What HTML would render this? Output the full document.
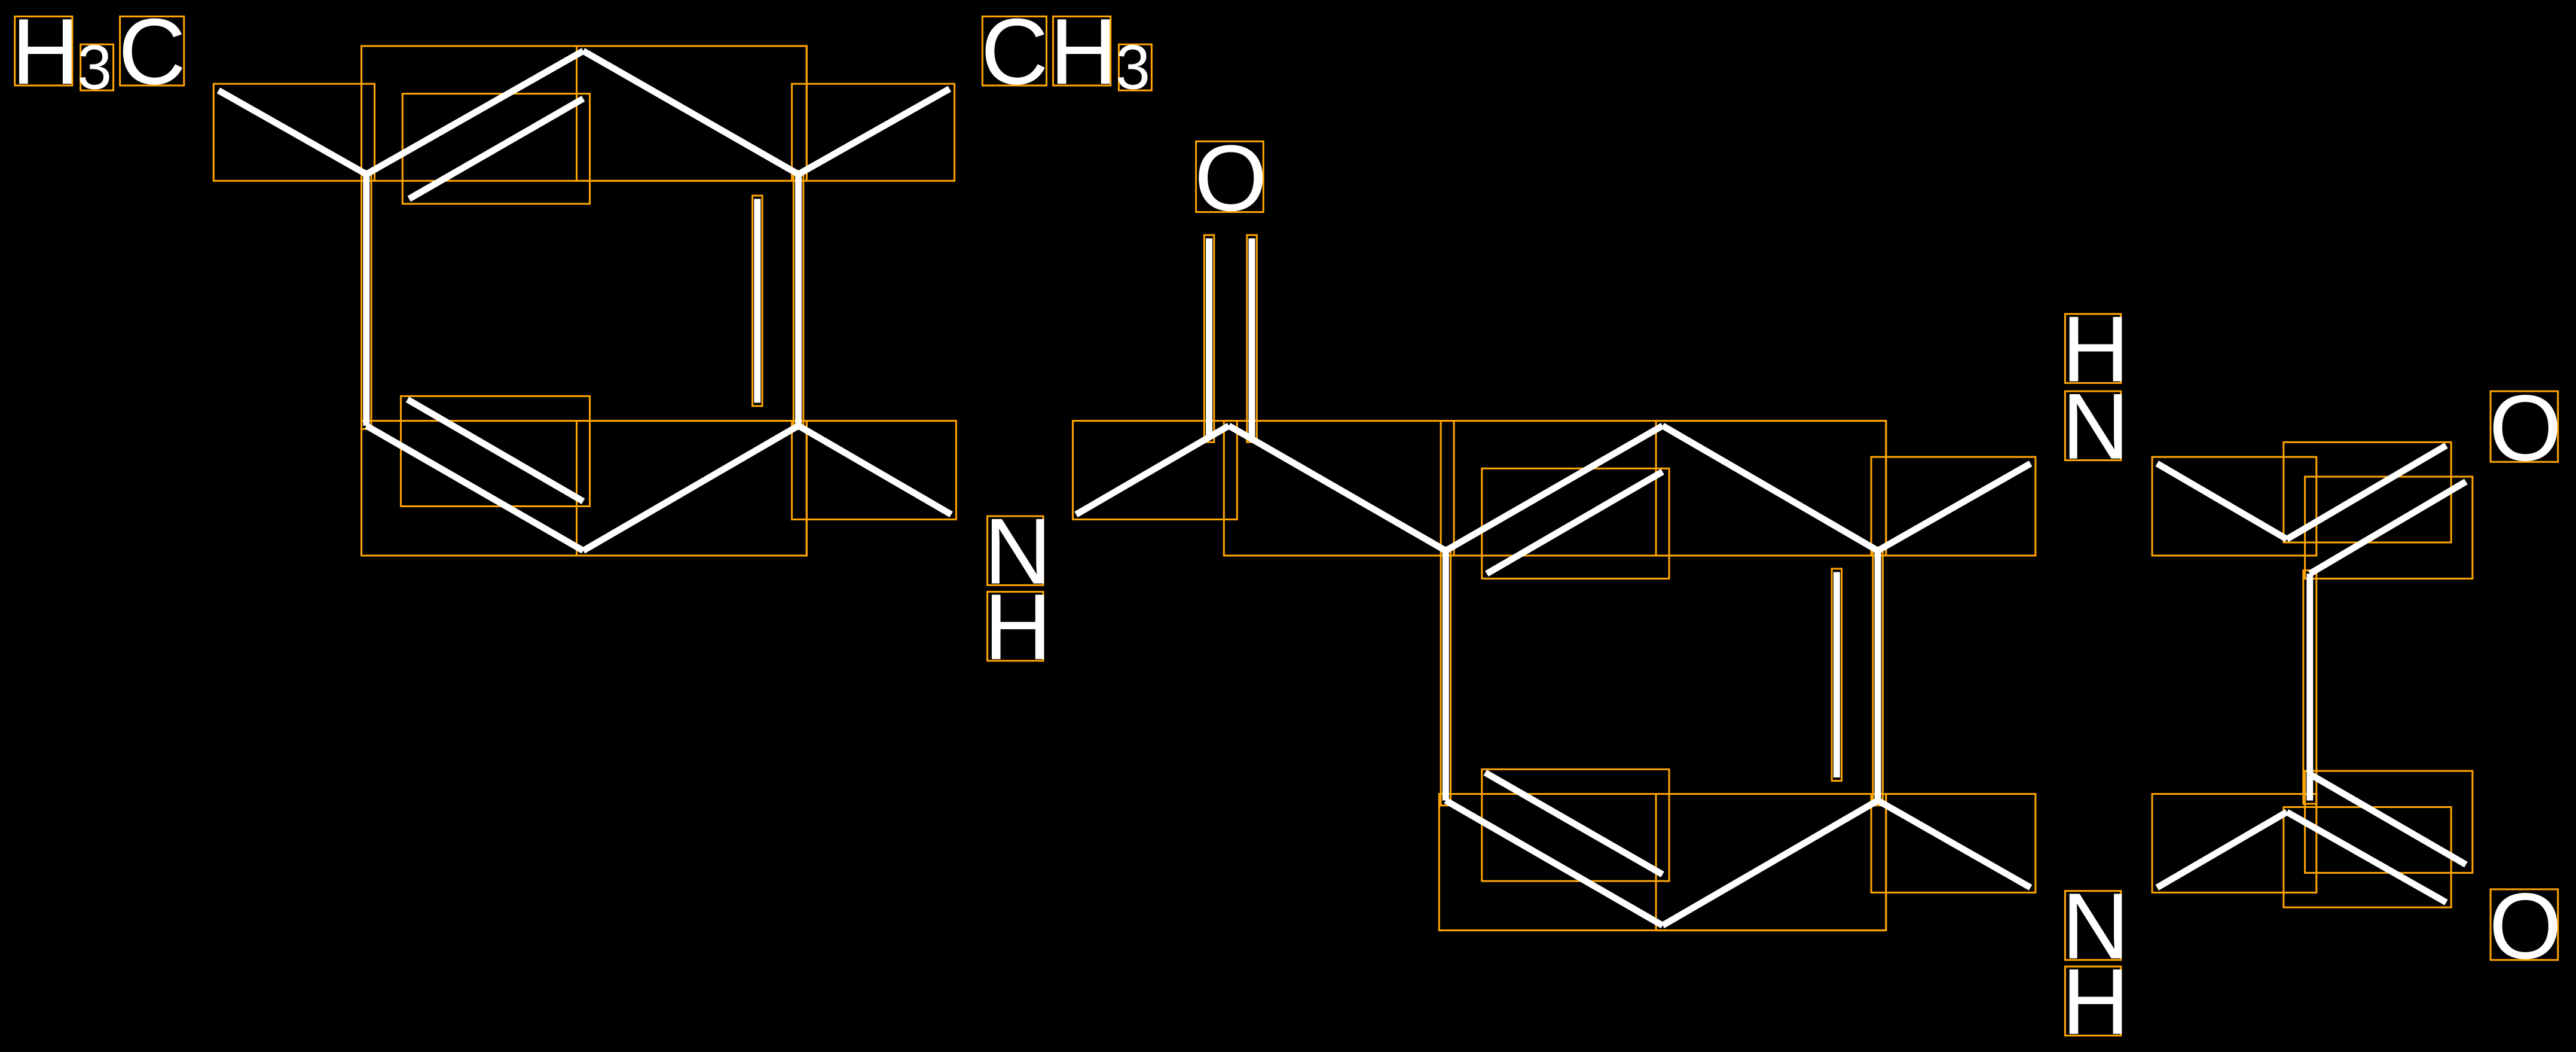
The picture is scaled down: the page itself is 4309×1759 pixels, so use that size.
<!DOCTYPE html>
<html><head><meta charset="utf-8"><style>
html,body{margin:0;padding:0;background:#000;width:4309px;height:1759px;overflow:hidden}
svg{display:block}
text{font-family:"Liberation Sans",sans-serif;fill:#fff}
</style></head><body>
<svg width="4309" height="1759" viewBox="0 0 1568 640" preserveAspectRatio="none" xmlns="http://www.w3.org/2000/svg">
<rect x="0" y="0" width="1568" height="640" fill="#000"/>
<g fill="none" stroke="#FFA500" stroke-width="1.1">
<rect x="130" y="51" width="98" height="59"/>
<rect x="220" y="28" width="271" height="82"/>
<rect x="245" y="57" width="114" height="67"/>
<rect x="351" y="28" width="140" height="82"/>
<rect x="482" y="51" width="99" height="59"/>
<rect x="220" y="256" width="271" height="82"/>
<rect x="244" y="241" width="115" height="67"/>
<rect x="351" y="256" width="140" height="82"/>
<rect x="482" y="256" width="100" height="60"/>
<rect x="653" y="256" width="100" height="60"/>
<rect x="745" y="256" width="140" height="82"/>
<rect x="877" y="256" width="271" height="82"/>
<rect x="902" y="285" width="114" height="67"/>
<rect x="1008" y="256" width="140" height="82"/>
<rect x="1139" y="278" width="100" height="60"/>
<rect x="876" y="483" width="272" height="83"/>
<rect x="902" y="468" width="114" height="68"/>
<rect x="1008" y="483" width="140" height="83"/>
<rect x="1139" y="483" width="100" height="60"/>
<rect x="1310" y="278" width="100" height="60"/>
<rect x="1390" y="269" width="102" height="61"/>
<rect x="1403" y="290" width="102" height="62"/>
<rect x="1310" y="483" width="100" height="60"/>
<rect x="1403" y="469" width="102" height="62"/>
<rect x="1390" y="491" width="102" height="61"/>
<rect x="220" y="104" width="6" height="157"/>
<rect x="458" y="119" width="6" height="128"/>
<rect x="483" y="104" width="6" height="157"/>
<rect x="733" y="143" width="6" height="126"/>
<rect x="759" y="143" width="6" height="126"/>
<rect x="877" y="333" width="6" height="157"/>
<rect x="1115" y="346" width="6" height="129"/>
<rect x="1140" y="333" width="6" height="157"/>
<rect x="1402" y="347" width="8" height="142"/>
<rect x="9" y="10" width="35" height="42"/>
<rect x="49" y="27" width="20" height="28"/>
<rect x="73" y="10" width="39" height="42"/>
<rect x="598" y="10" width="39" height="42"/>
<rect x="641" y="10" width="35" height="42"/>
<rect x="681" y="27" width="20" height="28"/>
<rect x="728" y="86" width="41" height="43"/>
<rect x="601" y="314" width="34" height="42"/>
<rect x="601" y="360" width="34" height="42"/>
<rect x="1257" y="191" width="34" height="42"/>
<rect x="1257" y="238" width="34" height="42"/>
<rect x="1516" y="238" width="41" height="43"/>
<rect x="1257" y="542" width="34" height="42"/>
<rect x="1257" y="588" width="34" height="42"/>
<rect x="1516" y="541" width="41" height="43"/>
</g>
<g stroke="#fff" stroke-width="4" stroke-linecap="butt">
<line x1="133" y1="55" x2="223" y2="106"/>
<line x1="223" y1="106" x2="355" y2="31"/>
<line x1="249" y1="121" x2="355" y2="60"/>
<line x1="355" y1="31" x2="486" y2="106"/>
<line x1="486" y1="106" x2="578" y2="54"/>
<line x1="223" y1="106" x2="223" y2="259"/>
<line x1="461" y1="121" x2="461" y2="245"/>
<line x1="486" y1="106" x2="486" y2="259"/>
<line x1="223" y1="259" x2="355" y2="335"/>
<line x1="248" y1="243" x2="355" y2="305"/>
<line x1="355" y1="335" x2="486" y2="259"/>
<line x1="486" y1="259" x2="579" y2="313"/>
<line x1="655" y1="313" x2="748" y2="259"/>
<line x1="736" y1="145" x2="736" y2="267"/>
<line x1="762" y1="145" x2="762" y2="267"/>
<line x1="748" y1="259" x2="880" y2="335"/>
<line x1="880" y1="335" x2="1012" y2="259"/>
<line x1="905" y1="349" x2="1012" y2="287"/>
<line x1="1012" y1="259" x2="1143" y2="335"/>
<line x1="1143" y1="335" x2="1236" y2="282"/>
<line x1="880" y1="335" x2="880" y2="487"/>
<line x1="1118" y1="348" x2="1118" y2="473"/>
<line x1="1143" y1="335" x2="1143" y2="487"/>
<line x1="880" y1="487" x2="1012" y2="563"/>
<line x1="904" y1="470" x2="1012" y2="532"/>
<line x1="1012" y1="563" x2="1143" y2="487"/>
<line x1="1143" y1="487" x2="1236" y2="540"/>
<line x1="1313" y1="282" x2="1392" y2="328"/>
<line x1="1392" y1="328" x2="1489" y2="271"/>
<line x1="1406" y1="349" x2="1501" y2="293"/>
<line x1="1406" y1="349" x2="1406" y2="487"/>
<line x1="1313" y1="540" x2="1392" y2="494"/>
<line x1="1392" y1="494" x2="1489" y2="549"/>
<line x1="1406" y1="471" x2="1501" y2="526"/>
</g>
<g font-size="57">
<text x="7" y="51">H</text><text x="47" y="54" font-size="38">3</text><text x="72" y="51">C</text>
<text x="597" y="51">C</text><text x="639" y="51">H</text><text x="679" y="54" font-size="38">3</text>
<text x="727" y="128">O</text>
<text x="599" y="355">N</text><text x="599" y="401">H</text>
<text x="1255" y="232">H</text><text x="1255" y="279">N</text>
<text x="1515" y="280">O</text>
<text x="1255" y="583">N</text><text x="1255" y="629">H</text>
<text x="1515" y="583">O</text>
</g>
</svg>
</body></html>
